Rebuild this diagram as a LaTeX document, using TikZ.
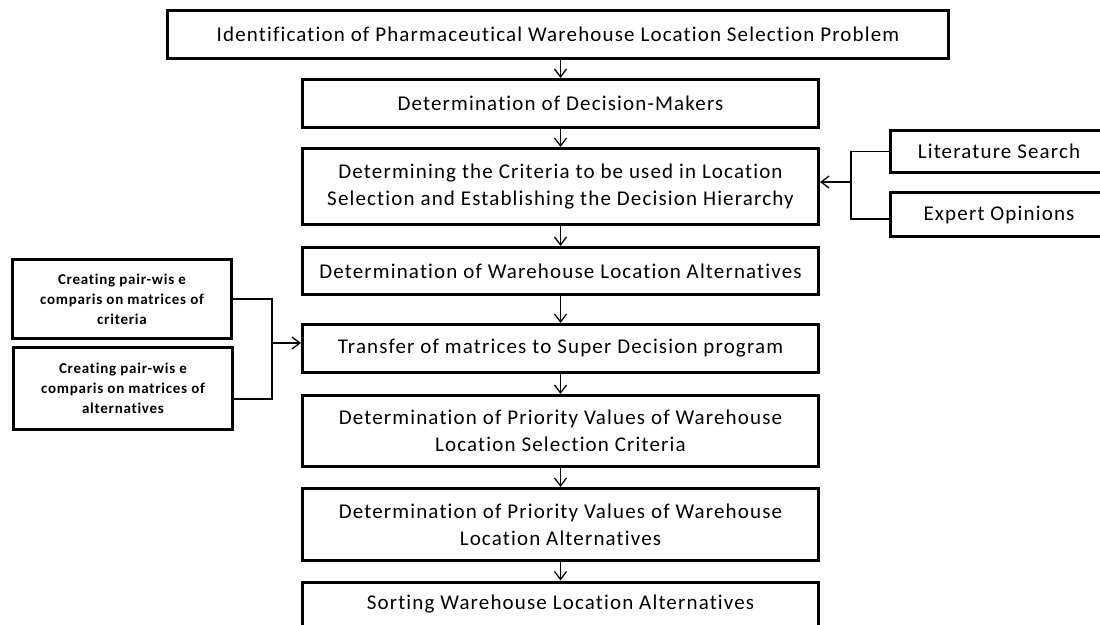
\documentclass[tikz,border=0pt]{standalone}
\usepackage{fontspec}
\setmainfont{Carlito}
\newfontfamily\mainfnt[LetterSpace=5.5,Ligatures=NoCommon]{Carlito}
\newfontfamily\sidefnt[LetterSpace=5,Ligatures=NoCommon]{Carlito}
\usetikzlibrary{arrows.meta,calc}
\tikzset{
  box/.style={draw=black, line width=3pt, fill=white, align=center, inner sep=0pt,
    font=\mainfnt\fontsize{21}{27}\selectfont},
  sidebox/.style={box, font=\sidefnt\bfseries\fontsize{15}{20}\selectfont},
  conn/.style={draw=black, line width=1.3pt},
  arr/.style={conn, -{Straight Barb[length=8pt,width=12pt,line width=1.3pt]}}
}
\begin{document}
\begin{tikzpicture}[x=1pt,y=-1pt]
\clip (0,0) rectangle (1100,624);
\fill[white] (0,0) rectangle (1100,624);
\node[box, minimum width=781pt, minimum height=48pt] (top) at (558,34.5)
  {Identification of Pharmaceutical Warehouse Location Selection Problem};
\node[box, minimum width=516pt, minimum height=48pt] (dm) at (560.5,103.5)
  {Determination of Decision-Makers};
\node[box, minimum width=516pt, minimum height=76pt] (crit) at (560.5,186.5)
  {Determining the Criteria to be used in Location\\Selection and Establishing the Decision Hierarchy};
\node[box, minimum width=516pt, minimum height=47pt] (alt) at (560.5,271)
  {Determination of Warehouse Location Alternatives};
\node[box, minimum width=516pt, minimum height=48pt] (tr) at (560.5,348.5)
  {Transfer of matrices to Super Decision program};
\node[box, minimum width=516pt, minimum height=71pt] (pc) at (560.5,431)
  {Determination of Priority Values of Warehouse\\Location Selection Criteria};
\node[box, minimum width=516pt, minimum height=72pt] (pa) at (560.5,524.5)
  {Determination of Priority Values of Warehouse\\Location Alternatives};
\node[box, minimum width=516pt, minimum height=44pt] (sort) at (560.5,604)
  {Sorting Warehouse Location Alternatives};
\node[box, minimum width=217pt, minimum height=42pt] (lit) at (999,151.5)
  {Literature Search};
\node[box, minimum width=217pt, minimum height=44pt] (exp) at (999,214.5)
  {Expert Opinions};
\node[sidebox, minimum width=219pt, minimum height=79pt] (mc) at (122,299)
  {Creating pair-wis e\\comparis on matrices of\\criteria};
\node[sidebox, minimum width=219pt, minimum height=82pt] (ma) at (123,388.5)
  {Creating pair-wis e\\comparis on matrices of\\alternatives};
% main flow
\draw[arr] (dm.north |- top.south) -- (dm.north);
\draw[arr] (dm.south) -- (crit.north);
\draw[arr] (crit.south) -- (alt.north);
\draw[arr] (alt.south) -- (tr.north);
\draw[arr] (tr.south) -- (pc.north);
\draw[arr] (pc.south) -- (pa.north);
\draw[arr] (pa.south) -- (sort.north);
% right branch
\coordinate (jr) at (851,182);
\draw[conn] (lit.west) -| (jr) |- ([yshift=-4.5pt]exp.west);
\draw[arr] (jr) -- (jr -| crit.east);
% left branch
\coordinate (jl) at (272,343);
\draw[conn] (mc.east) -| (jl) |- ([yshift=-10.5pt]ma.east);
\draw[arr] (jl) -- (jl -| tr.west);
\end{tikzpicture}
\end{document}
